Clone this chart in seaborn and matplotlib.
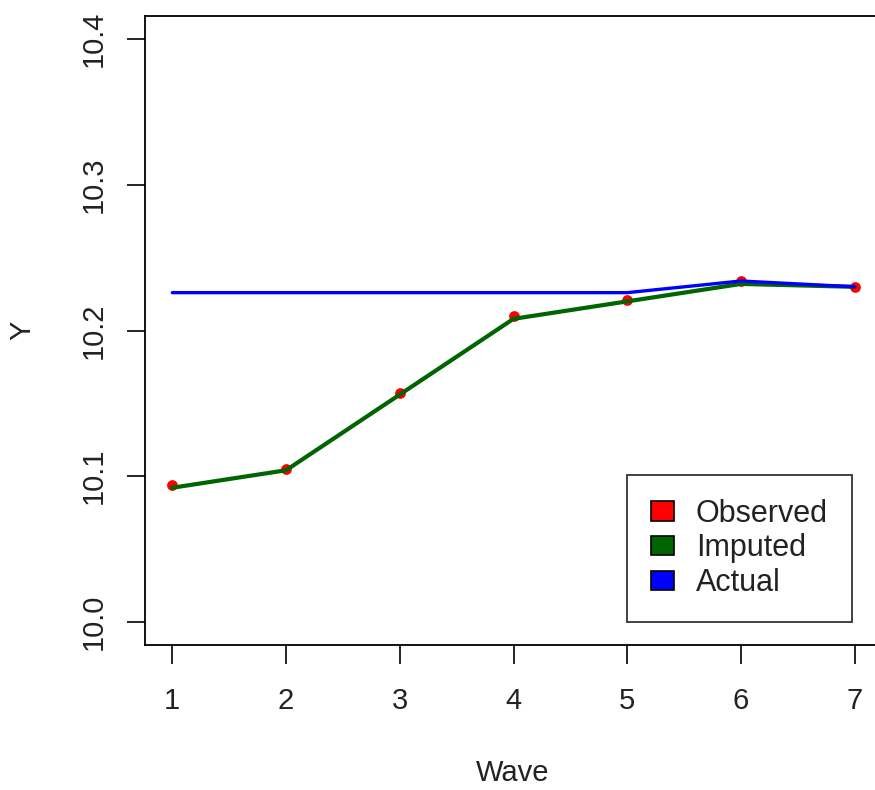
import matplotlib
matplotlib.use("Agg")
import matplotlib.pyplot as plt
from matplotlib.patches import Patch
import seaborn as sns
import pandas as pd

waves = [1, 2, 3, 4, 5, 6, 7]
observed = [10.094, 10.105, 10.157, 10.210, 10.221, 10.234, 10.230]
imputed = [10.092, 10.104, 10.156, 10.208, 10.220, 10.232, 10.230]
actual = [10.226, 10.226, 10.226, 10.226, 10.226, 10.234, 10.230]
y_ticks = [10.0, 10.1, 10.2, 10.3, 10.4]
y_ticklabels = ["10.0", "10.1", "10.2", "10.3", "10.4"]
legend_labels = ["Observed", "Imputed", "Actual"]

df = pd.DataFrame({"Wave": waves, "Observed": observed, "Imputed": imputed, "Actual": actual})

sns.set_style("white")
plt.rcParams["font.family"] = ["Liberation Sans", "DejaVu Sans"]

W, H = 875, 790
fig = plt.figure(figsize=(W / 100, H / 100), dpi=100)
ax = fig.add_axes([145 / W, 1 - 645 / H, (882 - 145) / W, (645 - 16) / H])

red, green, blue = "#FF0000", "#006400", "#0000FF"

sns.scatterplot(data=df, x="Wave", y="Observed", ax=ax, color=red, s=60,
                edgecolor=red, linewidth=0, zorder=2, legend=False)
sns.lineplot(data=df, x="Wave", y="Imputed", ax=ax, color=green, linewidth=3,
             zorder=3, legend=False)
sns.lineplot(data=df, x="Wave", y="Actual", ax=ax, color=blue, linewidth=2.4,
             zorder=4, legend=False)

ax.set_xlim(0.76, 7.24)
ax.set_ylim(9.984, 10.416)
ax.set_xticks(waves)
ax.set_xticklabels([str(w) for w in waves])
ax.set_yticks(y_ticks)
ax.set_yticklabels(y_ticklabels, rotation=90, va="center")

for s in ax.spines.values():
    s.set_visible(True)
    s.set_color("black")
    s.set_linewidth(1.3)

ax.tick_params(axis="x", direction="out", length=13.5, width=1.2, color="black",
               labelsize=21, pad=17, labelcolor="#222222", bottom=True)
ax.tick_params(axis="y", direction="out", length=13, width=1.2, color="black",
               labelsize=21, pad=14, labelcolor="#222222", left=True)

ax.set_xlabel("Wave", fontsize=21, color="#222222")
ax.set_ylabel("Y", fontsize=21, color="#222222")
ax.xaxis.set_label_coords((513 - 145) / (882 - 145), -(773 - 645) / (645 - 16))
ax.xaxis.label.set_va("center")
ax.yaxis.set_label_coords(-(145 - 22) / (882 - 145), (645 - 330) / (645 - 16))
ax.yaxis.label.set_va("center")

handles = [Patch(facecolor=c, edgecolor="black", linewidth=1.2) for c in (red, green, blue)]
leg = fig.legend(handles, legend_labels, loc="upper left",
                 bbox_to_anchor=(627 / W, 1 - 475 / H), bbox_transform=fig.transFigure,
                 fontsize=22, frameon=True, fancybox=False, shadow=False,
                 borderpad=0.78, labelspacing=0.15, handlelength=0.75, handleheight=0.6,
                 handletextpad=0.72, borderaxespad=0)
leg.get_frame().set_edgecolor("black")
leg.get_frame().set_linewidth(1.3)
for t in leg.get_texts():
    t.set_color("#222222")

fig.savefig("out.png", dpi=100)
